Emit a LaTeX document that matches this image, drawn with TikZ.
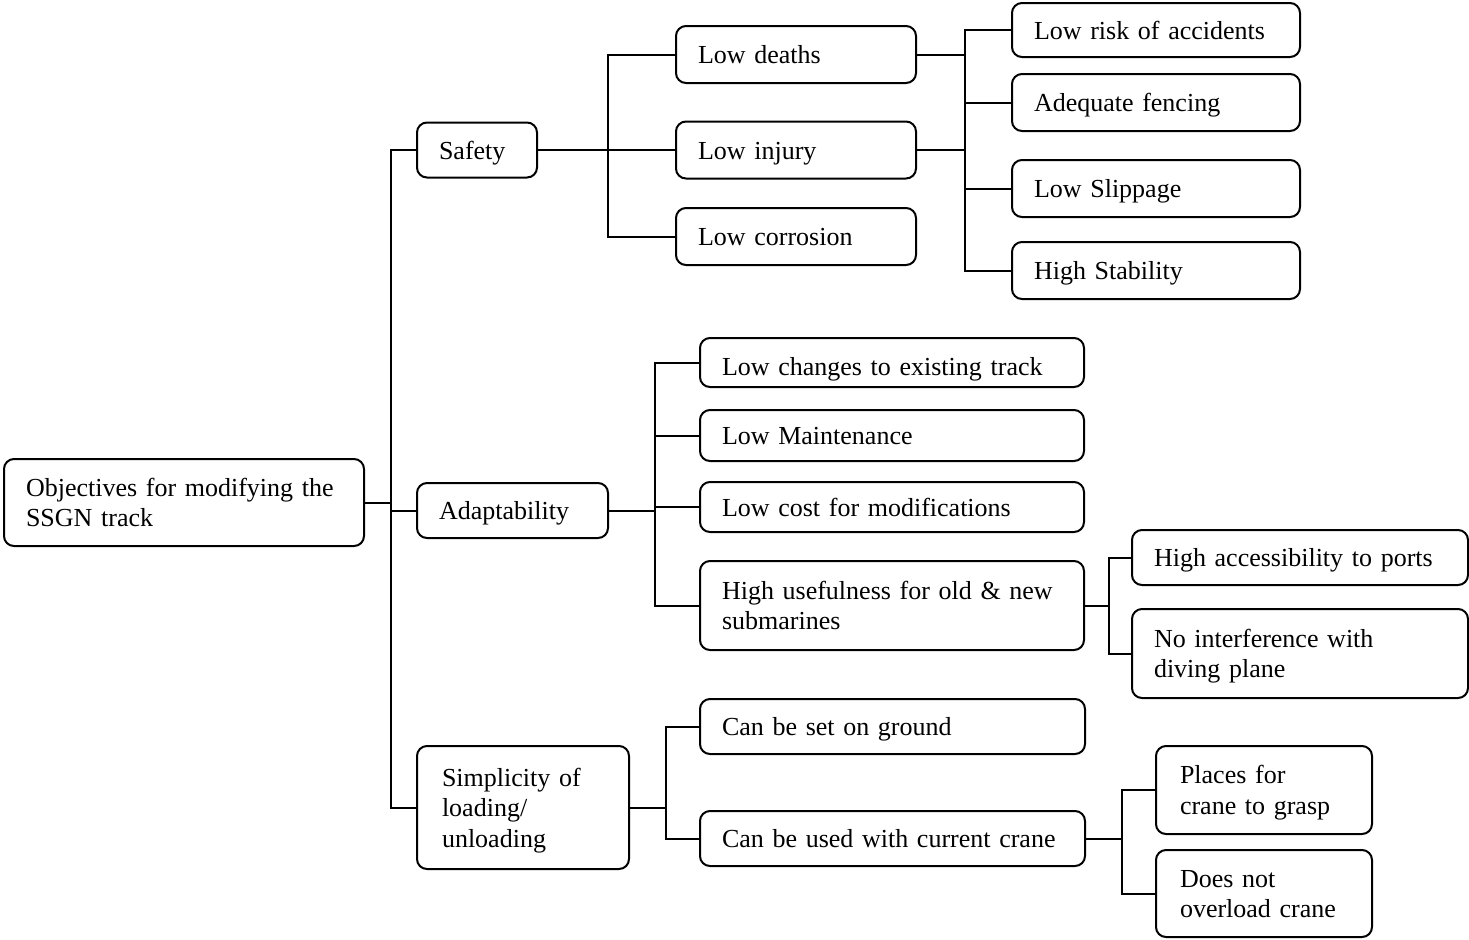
\documentclass[tikz,border=0pt]{standalone}
\usepackage{fontspec}
\setmainfont{Liberation Serif}
\usepackage{tikz}
\usetikzlibrary{
    positioning,
    calc
}
\newcommand{\boxstrut}{\rule[-3pt]{0pt}{15pt}}
\tikzset{
    % Lines
    line color/.style={black},
    link/.style={line color,line width=1pt},
    %
    % Boxes
    goal box/.style 2 args={draw,line color,line width=1pt,rounded corners=5pt,
        anchor=west,align=left,inner xsep=11pt,inner ysep=0pt,
        text width=#1,minimum height=#2,
        execute at begin node=\boxstrut,execute at end node=\boxstrut},
    %
    % Bus points
    bus point/.style={circle,inner sep=0pt,outer sep=0pt,minimum size=0pt}
}
\tikzstyle{every node}=[font=\fontsize{13}{15.25}\selectfont]

\begin{document}
\begin{tikzpicture}[x=0.5pt,y=-0.5pt]
        \useasboundingbox (0,0) rectangle (1469,939);
        % Root and first level
        \node[goal box={158pt}{43.5pt}] (root) at (3,502.5) {Objectives for modifying the\\SSGN track};
        \node[goal box={38pt}{27.5pt}] (safety) at (416,150) {Safety};
        \node[goal box={73.5pt}{27.5pt}] (adapt) at (416,510.5) {Adaptability};
        \node[goal box={81pt}{61.5pt},inner xsep=12.5pt] (simp) at (416,807.5) {Simplicity of\\loading/\\unloading};
        % Safety
        \node[goal box={98pt}{28.5pt}] (lowdeaths) at (675,54.5) {Low deaths};
        \node[goal box={98pt}{28.5pt}] (lowinjury) at (675,150) {Low injury};
        \node[goal box={98pt}{28.5pt}] (lowcorr) at (675,236.5) {Low corrosion};
        \node[goal box={122pt}{27pt}] (lowrisk) at (1011,30) {Low risk of accidents};
        \node[goal box={122pt}{28.5pt}] (fencing) at (1011,102.5) {Adequate fencing};
        \node[goal box={122pt}{28.5pt}] (slippage) at (1011,188.5) {Low Slippage};
        \node[goal box={122pt}{28.5pt}] (stability) at (1011,270.5) {High Stability};
        % Adaptability
        \node[goal box={170pt}{24.5pt}] (lowchanges) at (699,362.5) {\raisebox{-2pt}[\height][\depth]{Low changes to existing track}};
        \node[goal box={170pt}{25.5pt}] (lowmaint) at (699,435.5) {Low Maintenance};
        \node[goal box={170pt}{25pt}] (lowcost) at (699,507) {Low cost for modifications};
        \node[goal box={170pt}{44.5pt}] (useful) at (699,605.5) {High usefulness for old \& new\\submarines};
        \node[goal box={146pt}{27.5pt}] (ports) at (1131,557.5) {High accessibility to ports};
        \node[goal box={146pt}{44.5pt}] (diving) at (1131,653.5) {No interference with\\diving plane};
        % Simplicity
        \node[goal box={170.5pt}{27.5pt}] (ground) at (699,726.5) {Can be set on ground};
        \node[goal box={170.5pt}{27.5pt}] (crane) at (699,838.5) {Can be used with current crane};
        \node[goal box={84pt}{44pt},inner xsep=12pt] (grasp) at (1155,790) {Places for\\crane to grasp};
        \node[goal box={84pt}{43.5pt},inner xsep=12pt] (overload) at (1155,893.5) {Does not\\overload crane};
        % Connectors
        \draw[link] (root.east) -- ++(26,0) node[bus point] (rootbus) {};
        \foreach \n in {safety,adapt,simp}{
            \draw[link] (rootbus) |- (\n.west);
        }
        \draw[link] (safety.east) -- ++(70,0) node[bus point] (safebus) {};
        \foreach \n in {lowdeaths,lowinjury,lowcorr}{
            \draw[link] (safebus) |- (\n.west);
        }
        \draw[link] (lowdeaths.east) -- ++(48,0) node[bus point] (riskbus) {};
        \draw[link] (lowinjury.east) -- (lowinjury.east -| riskbus);
        \foreach \n in {lowrisk,fencing,slippage,stability}{
            \draw[link] (riskbus) |- (\n.west);
        }
        \draw[link] (adapt.east) -- ++(46,0) node[bus point] (adaptbus) {};
        \foreach \n in {lowchanges,lowmaint,lowcost,useful}{
            \draw[link] (adaptbus) |- (\n.west);
        }
        \draw[link] (useful.east) -- ++(24,0) node[bus point] (usebus) {};
        \foreach \n in {ports,diving}{
            \draw[link] (usebus) |- (\n.west);
        }
        \draw[link] (simp.east) -- ++(36,0) node[bus point] (simpbus) {};
        \foreach \n in {ground,crane}{
            \draw[link] (simpbus) |- (\n.west);
        }
        \draw[link] (crane.east) -- ++(36,0) node[bus point] (cranebus) {};
        \foreach \n in {grasp,overload}{
            \draw[link] (cranebus) |- (\n.west);
        }
    \end{tikzpicture}
\end{document}
